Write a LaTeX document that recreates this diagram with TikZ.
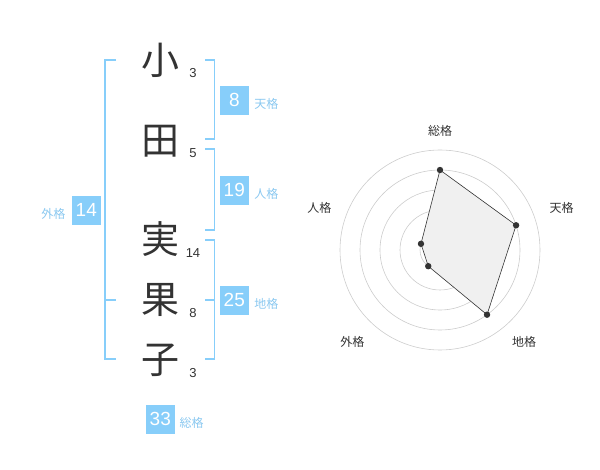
\documentclass[tikz,border=0pt]{standalone}
\usepackage{fontspec}
\setmainfont{Noto Sans CJK JP}
\newfontfamily\digitfont{Liberation Sans}
\definecolor{kakuBlue}{HTML}{87CEFA}
\definecolor{kakuText}{HTML}{8AC8F0}
\definecolor{inkGray}{HTML}{333333}
\begin{document}
\begin{tikzpicture}[x=1pt, y=-1pt,
		kanji/.style={text=inkGray, inner sep=0pt, font=\fontsize{38}{38}\selectfont},
		strokes/.style={text=inkGray, inner sep=0pt, font=\digitfont\fontsize{13}{13}\selectfont},
		kakubox/.style={fill=kakuBlue, text=white, minimum size=29pt, inner sep=0pt, font=\digitfont\fontsize{19}{19}\selectfont},
		kakulabel/.style={text=kakuText, inner sep=0pt, font=\fontsize{12}{12}\selectfont},
		radarlabel/.style={text=inkGray, inner sep=0pt, font=\fontsize{12}{12}\selectfont},
		bracket/.style={draw=kakuBlue, line width=1.6pt}]
		\useasboundingbox (0, 0) rectangle (600, 470);

		\node[kanji] (k1) at (160, 60) {小};
		\node[kanji] (k2) at (160, 141.7) {田};
		\node[kanji] (k3) at (160, 239) {実};
		\node[kanji] (k4) at (160, 300) {果};
		\node[kanji] (k5) at (160, 360) {子};

		\node[strokes] (s1) at (193, 72.8) {3};
		\node[strokes] (s2) at (193, 152.8) {5};
		\node[strokes] (s3) at (193, 252.8) {14};
		\node[strokes] (s4) at (193, 312.8) {8};
		\node[strokes] (s5) at (193, 372.8) {3};

		\foreach \top/\bot in {60/139.3, 149.3/230, 240/359.3} {
			\draw[bracket] (205, \top) -- (214.3, \top) -- (214.3, \bot) -- (205, \bot);
		}
		\draw[bracket] (205, 300) -- (214.3, 300);
		\draw[bracket] (116, 60) -- (105, 60) -- (105, 359.3) -- (116, 359.3);
		\draw[bracket] (105, 300) -- (116, 300);

		\node[kakubox] (ten) at (234.3, 100.3) {8};
		\node[kakubox] (jin) at (234.3, 190.3) {19};
		\node[kakubox] (chi) at (234.3, 300.3) {25};
		\node[kakubox] (gai) at (86.3, 210.3) {14};
		\node[kakubox] (sou) at (160.3, 419.3) {33};
		\node[kakulabel] (tenL) at (266.3, 104) {天格};
		\node[kakulabel] (jinL) at (266.3, 194) {人格};
		\node[kakulabel] (chiL) at (266.3, 304) {地格};
		\node[kakulabel] (gaiL) at (53.3, 214) {外格};
		\node[kakulabel] (souL) at (191.7, 422.7) {総格};

		\begin{scope}[shift={(440, 250)}, yscale=-1]
			\foreach \r in {20, 40, 60, 80, 100} {
				\draw[gray!40, line width=0.6pt] (0, 0) circle (\r);
			}
			\fill[gray!40] (0, 0) circle (3);
			\filldraw[fill=gray!12, draw=inkGray, line width=0.6pt]
				(90:80) -- (18:80) -- (-54:80) -- (-126:20) -- (162:20) -- cycle;
			\foreach \a/\r in {90/80, 18/80, -54/80, -126/20, 162/20} {
				\fill[inkGray] (\a:\r) circle (3.2);
			}
		\end{scope}
		\node[radarlabel] (rSou) at (440, 130.7) {総格};
		\node[radarlabel] (rTen) at (561.7, 208.3) {天格};
		\node[radarlabel] (rChi) at (524, 341.7) {地格};
		\node[radarlabel] (rGai) at (352.3, 341.7) {外格};
		\node[radarlabel] (rJin) at (319.3, 208.3) {人格};
	\end{tikzpicture}
\end{document}
